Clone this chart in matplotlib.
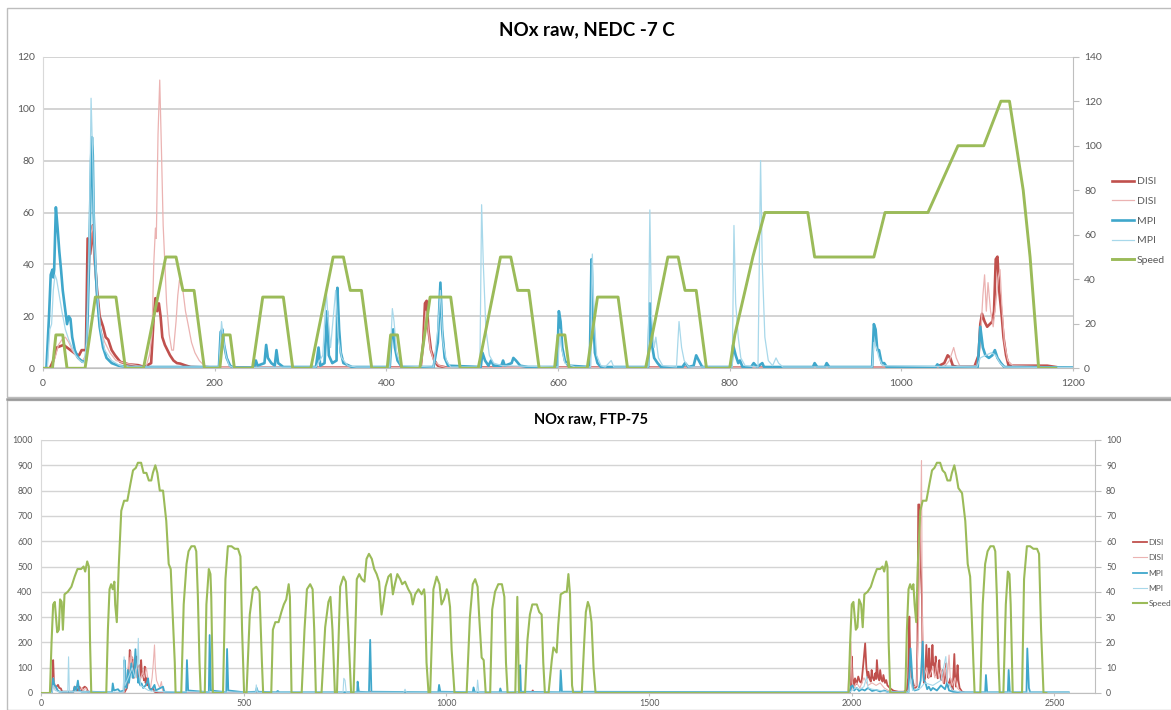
import matplotlib
matplotlib.use("Agg")
import matplotlib.pyplot as plt
from matplotlib.patches import Rectangle

# ---------------- NEDC -7 C (top chart) ----------------
nedc_speed_t = [0, 11, 15, 23, 28, 49, 61, 85, 96, 117, 143, 155, 163, 176, 188,
                206, 210, 218, 223, 244, 256, 280, 291, 312, 338, 350, 358, 371, 383,
                401, 405, 413, 418, 439, 451, 475, 486, 507, 533, 545, 553, 566, 578,
                596, 600, 608, 613, 634, 646, 670, 681, 702, 728, 740, 748, 761, 773,
                800, 806, 818, 827, 841, 891, 899, 968, 981, 1031, 1066, 1096, 1116,
                1126, 1142, 1150, 1160, 1180]
nedc_speed_v = [0, 0, 15, 15, 0, 0, 32, 32, 0, 0, 50, 50, 35, 35, 0,
                0, 15, 15, 0, 0, 32, 32, 0, 0, 50, 50, 35, 35, 0,
                0, 15, 15, 0, 0, 32, 32, 0, 0, 50, 50, 35, 35, 0,
                0, 15, 15, 0, 0, 32, 32, 0, 0, 50, 50, 35, 35, 0,
                0, 15, 35, 50, 70, 70, 50, 50, 70, 70, 100, 100, 120,
                120, 80, 50, 0, 0]

nedc_disi_t = [0, 8, 12, 16, 20, 24, 28, 32, 38, 42, 45, 50, 52, 55, 58, 60, 63, 66, 70, 73,
               76, 80, 84, 90, 100, 111, 118, 126, 129, 131, 133, 135, 137, 139, 142, 145,
               148, 152, 156, 160, 165, 172, 200, 440, 443, 445, 447, 449, 452, 456, 460,
               470, 1040, 1050, 1054, 1057, 1060, 1065, 1085, 1090, 1092, 1094, 1097, 1100,
               1103, 1106, 1108, 1110, 1112, 1114, 1117, 1119, 1122, 1125, 1130, 1170, 1180]
nedc_disi_v = [0, 0, 3, 8, 8.5, 9, 8, 7, 5.5, 5, 7, 7, 50, 44, 55, 43, 30, 20, 16, 12,
               11, 7, 5, 2.5, 1.5, 1.2, 0.5, 2, 20, 27, 22, 25, 20, 12, 9, 7,
               5, 3, 2, 1.8, 1.2, 0.5, 0.2, 0.3, 10, 25, 26, 15, 7, 3, 1,
               0.3, 0.3, 2, 5, 4, 1, 0.5, 0.5, 5, 17, 21, 18, 16,
               17, 18, 22, 42, 43, 30, 20, 12, 5, 1, 1, 1, 0.5]

nedc_disi2_t = [0, 10, 14, 18, 22, 26, 30, 34, 40, 46, 50, 53, 56, 58, 60, 63, 67, 72, 78,
                85, 95, 110, 120, 124, 127, 129, 131, 132, 134, 136, 138, 140, 142, 144,
                147, 150, 152, 155, 157, 159, 161, 163, 166, 169, 173, 177, 182, 188, 200,
                440, 443, 446, 448, 451, 455, 462, 470, 1050, 1056, 1061, 1064, 1068, 1088,
                1092, 1095, 1097, 1099, 1101, 1104, 1107, 1110, 1113, 1115, 1117, 1120,
                1124, 1130, 1180]
nedc_disi2_v = [0, 0, 4, 9, 11, 12, 10, 7, 4, 3, 5, 30, 52, 55, 40, 25, 15, 10, 6,
                3, 2, 1, 0.5, 5, 13, 40, 54, 50, 90, 111, 84, 55, 40, 25,
                13, 7, 7, 18, 28, 34, 32, 30, 22, 17, 10, 6, 3, 1, 0.3,
                0.3, 8, 22, 18, 8, 3, 1, 0.3, 0.5, 3, 8, 4, 1, 1,
                10, 28, 36, 22, 33, 22, 16, 25, 35, 38, 25, 10,
                3, 1, 0.5]

nedc_mpi_t = [0, 4, 7, 9, 11, 12, 13, 15, 17, 19, 21, 23, 26, 28, 30, 32, 34, 37, 41, 46,
              50, 52, 54, 56, 57, 58, 59, 61, 63, 66, 70, 74, 80, 88, 100, 205, 207, 209,
              211, 214, 218, 222, 246, 248, 250, 258, 260, 262, 266, 270, 272, 274, 280,
              318, 321, 323, 328, 331, 333, 337, 342, 343, 345, 347, 350, 360, 404, 406,
              408, 410, 413, 418, 455, 460, 463, 465, 468, 472, 510, 512, 515, 519, 522,
              525, 534, 536, 538, 546, 548, 551, 556, 565, 599, 601, 603, 605, 608, 612,
              637, 639, 641, 643, 646, 650, 705, 707, 709, 712, 716, 720, 745, 748, 752,
              758, 761, 764, 768, 802, 804, 807, 810, 812, 815, 825, 828, 832, 838, 840,
              897, 899, 902, 911, 913, 916, 966, 968, 970, 972, 974, 977, 980, 983, 1040,
              1042, 1045, 1089, 1092, 1095, 1098, 1102, 1106, 1109, 1112, 1116, 1120, 1200]
nedc_mpi_v = [0, 0, 20, 36, 38, 35, 38, 62, 54, 45, 38, 30, 22, 17, 20, 19, 12, 7, 4, 2.5,
              3, 20, 45, 80, 89, 82, 60, 40, 28, 16, 8, 4, 2, 1, 0.5, 0.5, 14, 15,
              9, 4, 1, 0.3, 0.3, 3, 1, 2, 9, 4, 2, 1, 7, 2, 0.5,
              0.5, 8, 1, 2, 22, 5, 2, 3, 31, 15, 6, 2, 0.5, 0.5, 12,
              15, 8, 3, 0.5, 0.5, 10, 33, 15, 4, 1, 0.5, 6, 3, 1, 3,
              1, 1, 3, 1, 2, 4, 3, 1, 0.5, 0.5, 22, 18, 8, 3, 1,
              0.5, 42, 20, 6, 2, 0.5, 0.5, 25, 10, 4, 2, 0.5, 0.5, 2, 0.5,
              1, 5, 3, 0.5, 0.5, 9, 5, 2, 3, 0.5, 0.5, 2, 0.5, 2, 0.5,
              0.5, 2, 0.5, 0.5, 2, 0.5, 0.5, 17, 15, 7, 7, 2, 2, 0.5, 0.5,
              1.5, 0.5, 0.5, 16, 8, 5, 4, 5, 7, 4, 2, 0.5, 0.3]

nedc_mpi2_t = [0, 5, 8, 10, 12, 14, 16, 19, 22, 26, 30, 34, 38, 43, 48, 51, 54, 56, 58, 60,
               63, 67, 72, 80, 90, 100, 205, 208, 210, 213, 217, 222, 318, 326, 330, 332,
               335, 341, 344, 348, 355, 365, 404, 407, 409, 412, 417, 455, 460, 463, 466,
               470, 475, 509, 511, 513, 516, 520, 525, 535, 600, 602, 604, 608, 620, 638,
               640, 642, 645, 650, 655, 662, 665, 705, 707, 709, 712, 714, 717, 722, 738,
               741, 744, 747, 752, 803, 805, 807, 810, 813, 818, 833, 836, 838, 841, 845,
               850, 854, 857, 862, 966, 968, 971, 974, 978, 1088, 1092, 1098, 1105, 1110,
               1115, 1120, 1200]
nedc_mpi2_v = [0, 0, 15, 17, 30, 36, 34, 28, 22, 15, 11, 8, 5, 3, 2, 10, 50, 104, 80, 50,
               30, 15, 7, 3, 1, 0.5, 0.5, 18, 12, 5, 1, 0.3, 0.5, 5, 30, 20,
               8, 30, 12, 4, 1, 0.5, 0.5, 23, 18, 6, 1, 0.5, 15, 30, 10,
               3, 0.5, 0.5, 63, 40, 15, 5, 2, 1, 0.5, 15, 8, 2, 0.5, 0.5,
               44, 20, 5, 1, 0.5, 3, 0.5, 0.5, 61, 20, 8, 12, 4, 1, 0.5,
               18, 8, 3, 0.5, 0.5, 55, 25, 12, 4, 1, 0.5, 80, 40, 12, 3,
               1, 4, 2, 0.5, 0.5, 10, 8, 4, 1, 0.5, 4, 5, 6, 5,
               2, 0.5, 0.3]

# ---------------- FTP-75 (bottom chart) ----------------
ftp_speed_t = [0, 22, 26, 30, 34, 37, 40, 44, 47, 51, 54, 58, 66, 75, 83, 90, 99, 105, 109,
               114, 118, 121, 124,
               161, 165, 169, 173, 177, 181, 183, 187, 192, 198, 205, 213, 221, 227, 234,
               239, 247, 253, 260, 266, 272, 276, 282, 287, 293, 301, 309, 315, 320, 325,
               330, 332,
               346, 352, 359, 364, 371, 379, 383, 387, 391, 394,
               404, 408, 414, 418, 420, 424,
               449, 455, 461, 470, 478, 486, 492, 496, 501,
               507, 515, 523, 531, 539, 545, 548,
               568, 572, 578, 586, 593, 599, 605, 611, 614, 618,
               643, 650, 656, 664, 670, 674, 678,
               692, 701, 705, 709, 714, 719, 725,
               730, 738, 746, 752, 758, 765,
               771, 779, 785, 791, 798, 803, 809, 816, 822, 828, 834, 840, 845, 850, 857,
               863, 868, 873, 879, 886, 891, 898, 906, 913, 917, 923, 931, 939, 945, 947,
               951, 956,
               960, 968, 976, 983, 988, 994, 1001, 1005, 1009, 1013, 1020,
               1050, 1058, 1065, 1071, 1077, 1081, 1087, 1092, 1097,
               1108, 1113, 1120, 1128, 1137, 1143, 1147, 1151,
               1170, 1175, 1179,
               1194, 1200, 1206, 1212, 1223, 1229, 1235, 1239, 1243,
               1252, 1260, 1264, 1268, 1272, 1276, 1282, 1292, 1297, 1301, 1305, 1310, 1313,
               1334, 1340, 1344, 1349, 1353, 1358, 1363, 1368,
               1992, 1996, 2000, 2004, 2010, 2014, 2018, 2023, 2027, 2031, 2039, 2047, 2055,
               2062, 2070, 2076, 2080, 2085, 2088, 2091, 2095,
               2132, 2136, 2140, 2144, 2148, 2152, 2155, 2159, 2163, 2169, 2175, 2184, 2192,
               2198, 2204, 2210, 2218, 2224, 2230, 2236, 2243, 2247, 2253, 2258, 2263, 2272,
               2280, 2286, 2292, 2296, 2300, 2303,
               2317, 2323, 2329, 2335, 2342, 2350, 2354, 2358, 2362, 2365,
               2374, 2380, 2385, 2389, 2392, 2397,
               2420, 2425, 2432, 2440, 2448, 2457, 2462, 2467, 2473, 2480]
ftp_speed_v = [0, 0, 20, 35, 36, 30, 24, 25, 37, 36, 25, 39, 40, 42, 46, 49, 49, 50, 48,
               52, 50, 20, 0,
               0, 25, 41, 43, 41, 44, 35, 28, 51, 72, 76, 76, 83, 88, 89,
               91, 91, 87, 87, 84, 84, 87, 90, 87, 80, 80, 68, 51, 49, 30,
               12, 0,
               0, 35, 51, 56, 58, 58, 56, 38, 12, 0,
               0, 35, 49, 47, 38, 0,
               0, 45, 58, 58, 57, 57, 54, 25, 0,
               0, 31, 41, 42, 40, 12, 0,
               0, 25, 28, 28, 32, 35, 37, 43, 38, 0,
               0, 25, 41, 43, 41, 25, 0,
               0, 26, 31, 36, 38, 25, 0,
               0, 42, 46, 44, 25, 0,
               0, 45, 47, 45, 44, 53, 55, 53, 49, 47, 44, 31, 36, 42, 46,
               47, 39, 43, 47, 45, 43, 44, 41, 39, 35, 39, 41, 39, 41, 38,
               12, 0,
               0, 41, 46, 43, 35, 37, 41, 39, 34, 17, 0,
               0, 30, 43, 45, 42, 30, 14, 13, 0,
               0, 33, 40, 43, 43, 38, 12, 0,
               0, 38, 0,
               0, 21, 31, 35, 35, 32, 31, 12, 0,
               0, 13, 18, 17, 16, 27, 39, 40, 40, 47, 39, 3, 0,
               0, 20, 32, 36, 34, 28, 10, 0,
               0, 20, 35, 36, 25, 26, 37, 35, 26, 39, 40, 42, 46,
               49, 49, 50, 48, 52, 50, 20, 0,
               0, 25, 41, 43, 41, 43, 35, 28, 51, 72, 76, 76, 83,
               88, 89, 91, 91, 88, 87, 84, 84, 87, 90, 86, 81, 79,
               68, 51, 46, 30, 12, 0,
               0, 35, 51, 56, 58, 58, 56, 38, 12, 0,
               0, 35, 48, 47, 35, 0,
               0, 45, 58, 58, 57, 57, 55, 25, 0, 0]

ftp_disi_t = [0, 27, 30, 32, 35, 38, 42, 45, 49, 52, 80, 83, 87, 91, 95, 99, 104, 108, 112,
              116, 125, 205, 212, 216, 219, 221, 223, 225, 227, 229, 231, 233, 235, 237, 239,
              241, 243, 245, 247, 249, 252, 254, 256, 258, 260, 262, 264, 268, 272, 276, 280,
              290, 810, 812, 814, 1210, 1213, 1216, 1995, 1998, 2000, 2002, 2005, 2008, 2012,
              2016, 2020, 2024, 2029, 2033, 2036, 2039, 2041, 2044, 2047, 2049, 2052, 2055,
              2058, 2060, 2062, 2065, 2068, 2070, 2073, 2076, 2078, 2082, 2085, 2088, 2091,
              2095, 2103, 2115, 2128, 2136, 2139, 2142, 2144, 2146, 2148, 2150, 2153, 2156,
              2160, 2162, 2164, 2167, 2170, 2173, 2175, 2178, 2181, 2184, 2187, 2189, 2191,
              2193, 2195, 2197, 2199, 2201, 2203, 2205, 2207, 2209, 2212, 2214, 2216, 2218,
              2220, 2222, 2224, 2226, 2228, 2230, 2233, 2235, 2237, 2240, 2243, 2246, 2249,
              2251, 2253, 2255, 2257, 2259, 2261, 2263, 2266, 2272, 2280]
ftp_disi_v = [0, 0, 130, 40, 25, 25, 32, 20, 18, 5, 5, 25, 18, 10, 25, 8, 20, 25, 20,
              5, 0, 0, 20, 60, 170, 100, 144, 80, 130, 60, 110, 70, 144, 90, 58,
              80, 110, 60, 130, 70, 71, 50, 104, 40, 58, 30, 38, 20, 15, 18, 5,
              0, 0, 5, 0, 0, 10, 0, 0, 20, 144, 60, 30, 58, 35,
              65, 45, 40, 124, 196, 100, 60, 84, 55, 45, 91, 60, 50,
              78, 55, 130, 60, 50, 91, 55, 45, 71, 40, 51, 30, 25,
              18, 9, 5, 5, 12, 60, 302, 150, 91, 60, 51, 30, 20,
              25, 200, 745, 745, 500, 381, 117, 40, 60, 190, 91, 60, 176,
              90, 65, 120, 190, 110, 117, 70, 144, 90, 58, 80, 130, 80,
              51, 70, 91, 60, 38, 60, 117, 50, 25, 40, 58, 30, 12,
              80, 154, 60, 25, 60, 110, 50, 20, 5, 0]

ftp_disi2_t = [0, 28, 31, 34, 40, 48, 95, 100, 105, 110, 115, 125, 205, 214, 217, 219, 222,
               225, 230, 235, 240, 245, 250, 255, 260, 265, 270, 274, 277, 280, 282, 285,
               290, 293, 297, 300, 305, 1990, 1998, 2001, 2006, 2012, 2020, 2030, 2040,
               2050, 2060, 2070, 2080, 2090, 2100, 2140, 2143, 2146, 2150, 2160, 2165, 2170,
               2172, 2174, 2177, 2185, 2190, 2195, 2200, 2205, 2210, 2215, 2220, 2225, 2230,
               2235, 2240, 2243, 2248, 2255, 2260, 2270, 2280]
ftp_disi2_v = [0, 0, 60, 20, 10, 5, 5, 20, 10, 20, 5, 0, 0, 90, 140, 60, 165,
               100, 140, 60, 100, 50, 80, 60, 100, 40, 20, 60, 117, 190, 100, 50,
               30, 20, 45, 10, 0, 0, 203, 40, 20, 40, 20, 60, 30,
               40, 30, 40, 20, 10, 5, 5, 100, 40, 20, 30, 300, 700,
               918, 300, 60, 100, 60, 80, 100, 60, 120, 60, 90, 40, 100,
               50, 150, 60, 30, 60, 20, 5, 0]

ftp_mpi_t = [0, 27, 30, 33, 37, 41, 45, 80, 83, 87, 91, 94, 100, 124, 160, 175, 177, 180,
             190, 195, 204, 206, 208, 211, 214, 217, 220, 223, 226, 229, 231, 233, 235, 237,
             240, 242, 245, 248, 252, 258, 262, 264, 267, 272, 280, 283, 295, 301, 304, 330,
             358, 360, 363, 414, 416, 419, 457, 459, 462, 500, 530, 532, 535, 580, 584, 588,
             780, 781, 784, 809, 812, 815, 980, 982, 985, 1065, 1067, 1070, 1131, 1133, 1136,
             1180, 1182, 1184, 1280, 1282, 1285, 1995, 1998, 2002, 2006, 2012, 2018, 2025,
             2032, 2040, 2050, 2060, 2070, 2080, 2090, 2140, 2145, 2148, 2151, 2155, 2165,
             2170, 2175, 2178, 2182, 2186, 2190, 2195, 2200, 2210, 2220, 2230, 2235, 2240,
             2250, 2270, 2329, 2331, 2334, 2385, 2387, 2390, 2431, 2433, 2435, 2437, 2440,
             2535]
ftp_mpi_v = [0, 0, 58, 30, 25, 10, 5, 5, 25, 10, 49, 10, 5, 5, 3, 3, 38, 10,
             15, 5, 10, 130, 40, 20, 91, 40, 80, 117, 60, 65, 120, 173, 100, 91,
             40, 58, 30, 38, 20, 30, 45, 58, 20, 10, 32, 10, 20, 25, 5, 3,
             3, 130, 10, 3, 229, 10, 3, 174, 10, 3, 5, 20, 5, 3, 8, 3,
             3, 45, 5, 3, 210, 5, 3, 32, 5, 3, 22, 3, 3, 18, 3,
             3, 110, 5, 3, 90, 5, 3, 25, 30, 10, 20, 8, 15,
             10, 20, 8, 12, 6, 10, 3, 3, 176, 100, 20, 10, 15,
             50, 203, 50, 40, 15, 25, 10, 20, 10, 30, 15, 40, 10,
             5, 3, 3, 71, 3, 3, 91, 3, 3, 176, 100, 20, 3,
             3]

ftp_mpi2_t = [0, 27, 30, 35, 45, 66, 68, 70, 100, 160, 203, 205, 207, 215, 225, 232, 238,
              240, 242, 246, 255, 265, 290, 530, 531, 534, 745, 747, 750, 753, 895, 898, 901,
              1075, 1077, 1080, 1995, 2000, 2010, 2020, 2030, 2037, 2040, 2050, 2070, 2090,
              2140, 2145, 2150, 2170, 2180, 2200, 2220, 2232, 2236, 2250, 2270, 2535]
ftp_mpi2_v = [0, 0, 30, 10, 5, 5, 143, 5, 5, 3, 3, 143, 30, 60, 100, 60, 120,
              216, 80, 30, 20, 10, 5, 3, 32, 3, 3, 58, 50, 3, 3, 15, 3,
              3, 51, 3, 3, 10, 20, 15, 25, 65, 20, 15, 10, 3,
              3, 60, 10, 20, 40, 30, 50, 144, 40, 10, 3, 3]

series_labels = ['DISI', 'DISI', 'MPI', 'MPI', 'Speed']
series_colors = ['#C0504D', '#EBB3B2', '#3FA7CB', '#A8D8EA', '#9BBB59']

W, H = 1171, 710
GRID = '#C8C8C8'
TXT = '#595959'
FONT = 'Lato'

plt.rcParams['font.family'] = [FONT, 'DejaVu Sans']

fig = plt.figure(figsize=(W / 100, H / 100), dpi=100)
fig.patch.set_facecolor('white')

# chart-area frames
fig.add_artist(Rectangle((7 / W, 1 - 397 / H), (W - 6) / W, 389 / H, transform=fig.transFigure,
                         fill=False, edgecolor='#BDBDBD', lw=1.0))
fig.add_artist(Rectangle((7 / W, 0.0), (W - 6) / W, (H - 400) / H, transform=fig.transFigure,
                         fill=False, edgecolor='#BDBDBD', lw=1.0))
fig.add_artist(plt.Line2D([7 / W, 1], [1 - 398.5 / H] * 2, transform=fig.transFigure,
                          color='#9A9A9A', lw=1.8))


def style_axes(ax, axr, fs, xpad):
    for a in (ax, axr):
        a.set_facecolor('none')
        for s in a.spines.values():
            s.set_visible(False)
        a.tick_params(colors=TXT, labelsize=fs, length=3, width=0.8)
    ax.spines['bottom'].set_visible(True)
    ax.spines['bottom'].set_color('#BFBFBF')
    ax.spines['left'].set_visible(True)
    ax.spines['left'].set_color('#D9D9D9')
    axr.spines['right'].set_visible(True)
    axr.spines['right'].set_color('#BFBFBF')
    ax.tick_params(axis='y', length=0, pad=6)
    axr.tick_params(axis='y', color='#BFBFBF', length=4, pad=4)
    ax.tick_params(axis='x', color='#BFBFBF', length=2.5, pad=xpad)
    ax.grid(axis='y', color=GRID, lw=1.1)
    ax.set_axisbelow(True)


# ---- top chart ----
ax1 = fig.add_axes([43 / W, 1 - 368.3 / H, 1030 / W, 311.6 / H])
ax1r = ax1.twinx()
style_axes(ax1, ax1r, 7.5, 5)
ax1.set_xlim(0, 1200)
ax1.set_ylim(0, 120)
ax1r.set_ylim(0, 140)
ax1.set_xticks(range(0, 1201, 200))
ax1.set_yticks(range(0, 121, 20))
ax1r.set_yticks(range(0, 141, 20))

h1 = []
h1 += ax1.plot(nedc_disi_t, nedc_disi_v, color=series_colors[0], lw=1.9)
h1 += ax1.plot(nedc_disi2_t, nedc_disi2_v, color=series_colors[1], lw=0.9)
h1 += ax1.plot(nedc_mpi_t, nedc_mpi_v, color=series_colors[2], lw=1.9)
h1 += ax1.plot(nedc_mpi2_t, nedc_mpi2_v, color=series_colors[3], lw=0.9)
h1 += ax1r.plot(nedc_speed_t, nedc_speed_v, color=series_colors[4], lw=2.1)

fig.text(587 / W, 1 - 30 / H, 'NOx raw, NEDC -7 C', ha='center', va='center',
         fontsize=13.5, fontweight='bold', color='#000000')
fig.legend(h1, series_labels, loc='center left', bbox_to_anchor=(1112 / W, 1 - 221 / H),
           frameon=False, fontsize=7.5, handlelength=2.1, handletextpad=0.3,
           labelspacing=1.0, labelcolor=TXT, borderpad=0, borderaxespad=0)

# ---- bottom chart ----
ax2 = fig.add_axes([41 / W, 1 - 693 / H, 1054 / W, 253 / H])
ax2r = ax2.twinx()
style_axes(ax2, ax2r, 6.3, 1.5)
ax2.set_xlim(0, 2600)
ax2.set_ylim(0, 1000)
ax2r.set_ylim(0, 100)
ax2.set_xticks(range(0, 2501, 500))
ax2.set_yticks(range(0, 1001, 100))
ax2r.set_yticks(range(0, 101, 10))
ax2.grid(axis='y', color='#D4D4D4', lw=1.0)

h2 = []
h2 += ax2.plot(ftp_disi_t, ftp_disi_v, color=series_colors[0], lw=1.3)
h2 += ax2.plot(ftp_disi2_t, ftp_disi2_v, color=series_colors[1], lw=0.8)
h2 += ax2.plot(ftp_mpi_t, ftp_mpi_v, color=series_colors[2], lw=1.3)
h2 += ax2.plot(ftp_mpi2_t, ftp_mpi2_v, color=series_colors[3], lw=0.8)
h2 += ax2r.plot(ftp_speed_t, ftp_speed_v, color=series_colors[4], lw=1.5)

fig.text(591 / W, 1 - 420 / H, 'NOx raw, FTP-75', ha='center', va='center',
         fontsize=10.5, fontweight='bold', color='#000000')
fig.legend(h2, series_labels, loc='center left', bbox_to_anchor=(1133 / W, 1 - 573 / H),
           frameon=False, fontsize=6.0, handlelength=1.7, handletextpad=0.15,
           labelspacing=1.0, labelcolor=TXT, borderpad=0, borderaxespad=0)

fig.savefig('out.png', dpi=100, facecolor='white')
